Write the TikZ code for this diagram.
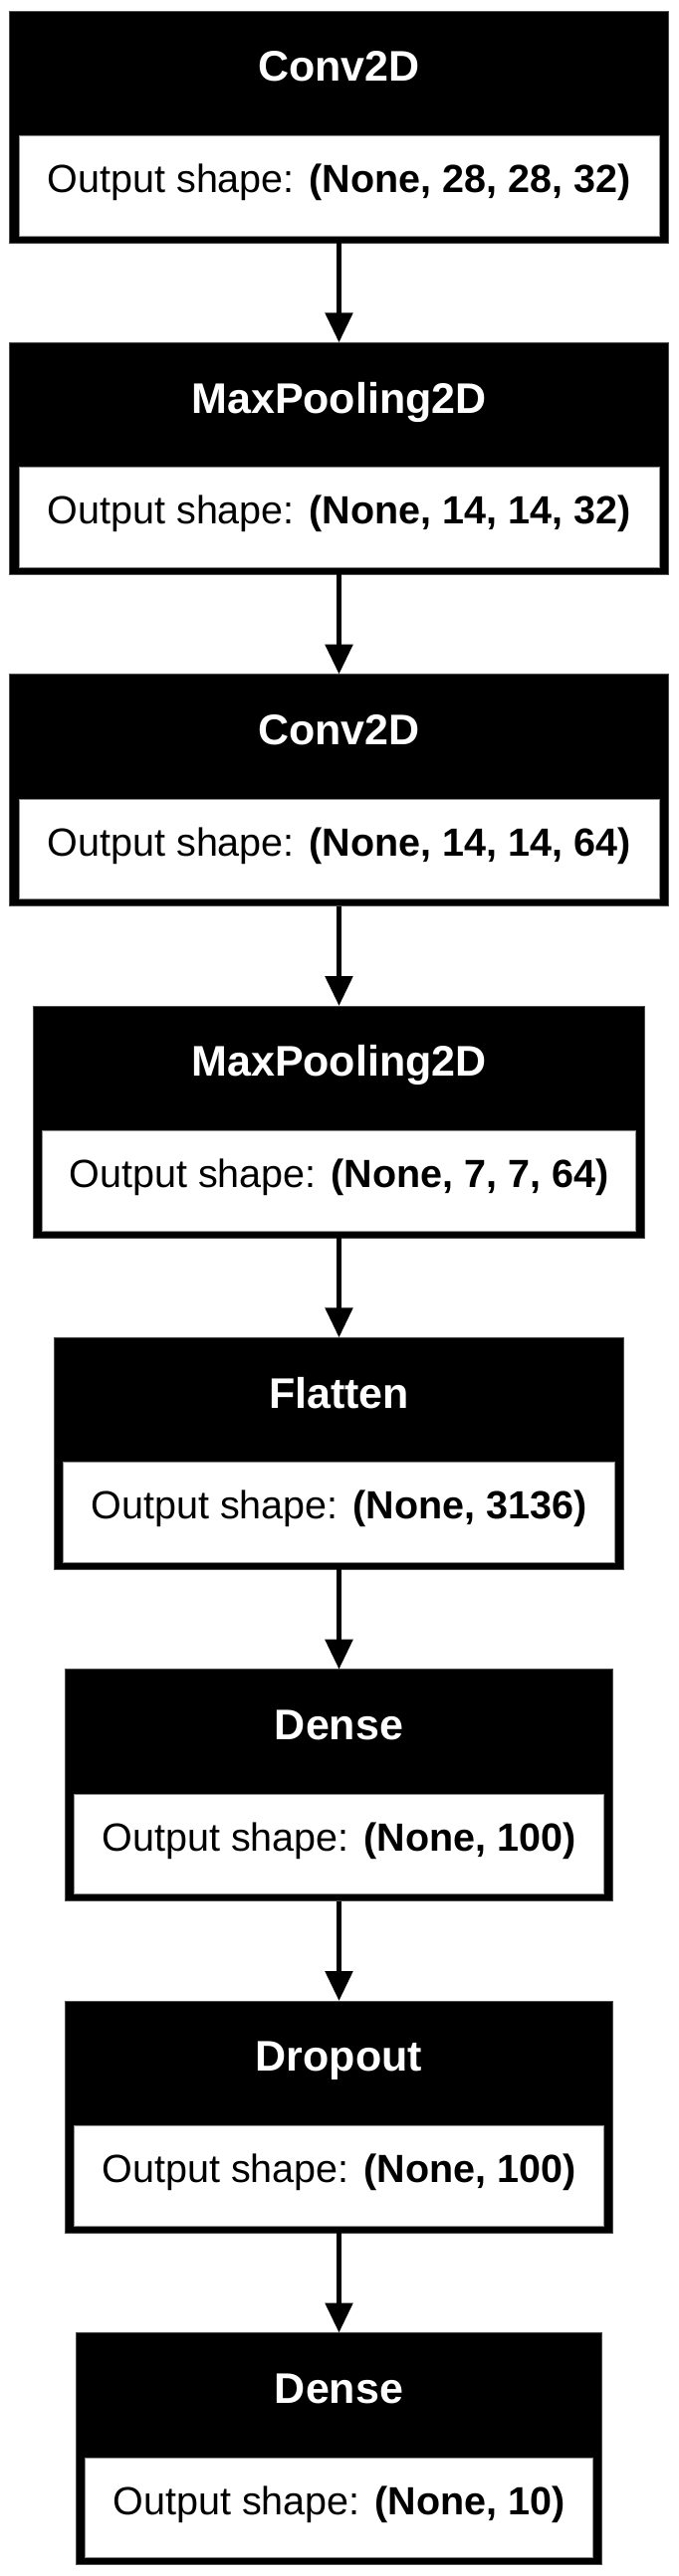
\documentclass[tikz,border=0pt]{standalone}
\usepackage{fontspec}
\setmainfont{Liberation Sans}
\usetikzlibrary{arrows.meta,calc}
\tikzset{
  outerbox/.style={fill=black, draw=black!70, line width=0.6pt, minimum height=233pt, inner sep=0pt, outer sep=0pt, anchor=north},
  innerbox/.style={fill=white, draw=black!45, line width=0.8pt, minimum height=100.5pt, inner sep=0pt, outer sep=0pt, anchor=south},
  headtext/.style={text=white, font=\fontsize{43}{51}\selectfont\bfseries, anchor=base, inner sep=0pt},
  bodytext/.style={text=black, font=\fontsize{39.5}{47}\selectfont, anchor=base, inner sep=0pt},
  flow/.style={line width=5.5pt, draw=black, -{Triangle[length=30pt,width=27pt]}}
}
\newcommand\mklayer[5]{%
  \node[outerbox, minimum width=2*#3pt] (#1) at (340.5,-#2) {};
  \node[innerbox, minimum width=2*#3pt-18.6pt] (#1w) at ($(#1.south)+(0,7)$) {};
  \node[headtext] (#1h) at (340.5,-#2-70.7) {#4};
  \node[bodytext] (#1t) at (340.5,-#2-182.6) {Output shape: \textbf{#5}};
}
\begin{document}
\begin{tikzpicture}[x=1pt,y=1pt]
\useasboundingbox (0,0) rectangle (681,-2589);
\mklayer{L1}{11}{330.8}{Conv2D}{(None, 28, 28, 32)}
\mklayer{L2}{344.3}{330.8}{MaxPooling2D}{(None, 14, 14, 32)}
\mklayer{L3}{677.6}{330.8}{Conv2D}{(None, 14, 14, 64)}
\mklayer{L4}{1011}{307.2}{MaxPooling2D}{(None, 7, 7, 64)}
\mklayer{L5}{1344.3}{286.2}{Flatten}{(None, 3136)}
\mklayer{L6}{1677.7}{275.2}{Dense}{(None, 100)}
\mklayer{L7}{2011}{275.2}{Dropout}{(None, 100)}
\mklayer{L8}{2344.5}{264.2}{Dense}{(None, 10)}
\draw[flow] (L1.south) -- (L2.north);
\draw[flow] (L2.south) -- (L3.north);
\draw[flow] (L3.south) -- (L4.north);
\draw[flow] (L4.south) -- (L5.north);
\draw[flow] (L5.south) -- (L6.north);
\draw[flow] (L6.south) -- (L7.north);
\draw[flow] (L7.south) -- (L8.north);
\end{tikzpicture}
\end{document}
